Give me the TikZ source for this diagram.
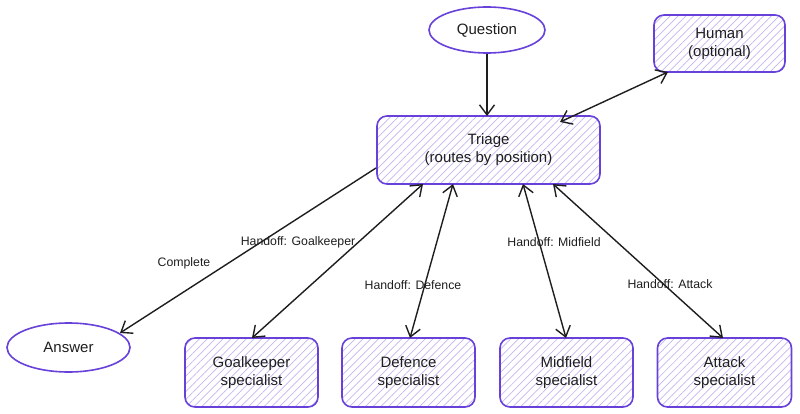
\documentclass[tikz,border=0pt]{standalone}
\usepackage{fontspec}
\setmainfont{Liberation Sans}
\usetikzlibrary{arrows.meta,patterns.meta,shapes.geometric}
\definecolor{exstroke}{HTML}{6741D9}
\definecolor{exhatch}{HTML}{C4B6F0}
\definecolor{exink}{HTML}{1E1E1E}
\tikzset{
  hatched/.style={draw=exstroke, line width=1.6pt, rounded corners=10pt,
    pattern={Lines[angle=45,distance=5.5pt,line width=0.7pt]}, pattern color=exhatch,
    align=center, font=\fontsize{15}{18}\selectfont, text=exink, inner sep=0pt},
  oval/.style={ellipse, draw=exstroke, line width=1.6pt, fill=white,
    font=\fontsize{15}{18}\selectfont, text=exink, inner sep=0pt},
  conn/.style={draw=exink, line width=1.4pt, -{Straight Barb[length=10pt,width=15pt,line width=1.4pt]}},
  biconn/.style={draw=exink, line width=1.4pt, {Straight Barb[length=10pt,width=15pt,line width=1.4pt]}-{Straight Barb[length=10pt,width=15pt,line width=1.4pt]}},
  elabel/.style={font=\fontsize{12.3}{14}\selectfont, text=exink, inner sep=0pt}
}
\begin{document}
\begin{tikzpicture}[x=1pt,y=-1pt]
\useasboundingbox (0,0) rectangle (800,414);
\node[oval, minimum width=116pt, minimum height=46pt] (question) at (487,30) {Question};
\node[hatched, minimum width=131pt, minimum height=57pt] (human) at (719.5,43.5) {Human\\(optional)};
\node[hatched, minimum width=223pt, minimum height=68pt] (triage) at (488.5,150) {Triage\\(routes by position)};
\node[oval, minimum width=123pt, minimum height=49pt] (answer) at (68.5,347.5) {Answer};
\node[hatched, minimum width=133pt, minimum height=69pt] (gk) at (251.5,372.5) {Goalkeeper\\specialist};
\node[hatched, minimum width=133pt, minimum height=69pt] (def) at (408.5,372.5) {Defence\\specialist};
\node[hatched, minimum width=133pt, minimum height=69pt] (mid) at (566.5,372.5) {Midfield\\specialist};
\node[hatched, minimum width=134pt, minimum height=69pt] (att) at (724.5,372.5) {Attack\\specialist};

\coordinate (tq) at (487,116);
\coordinate (th) at (560,122);
\coordinate (hb) at (668,72);
\coordinate (ta) at (376,168);
\coordinate (at) at (120,333);
\coordinate (tg) at (423,184);
\coordinate (gt) at (252,338);
\coordinate (td) at (453,184);
\coordinate (dt) at (410,338);
\coordinate (tm) at (523,184);
\coordinate (mt) at (566,338);
\coordinate (tt) at (553,184);
\coordinate (att0) at (723,338);

\draw[conn] (question.south) -- (tq);
\draw[biconn] (th) -- (hb);
\draw[conn] (ta) -- (at);
\draw[biconn] (gt) -- (tg);
\draw[biconn] (dt) -- (td);
\draw[biconn] (mt) -- (tm);
\draw[biconn] (att0) -- (tt);

\node[elabel] (lcomp) at (184,263) {Complete};
\node[elabel] (lgk) at (298,242) {Handoff: Goalkeeper};
\node[elabel] (ldef) at (413,285) {Handoff: Defence};
\node[elabel] (lmid) at (554,242) {Handoff: Midfield};
\node[elabel] (latt) at (670,284) {Handoff: Attack};
\end{tikzpicture}
\end{document}
